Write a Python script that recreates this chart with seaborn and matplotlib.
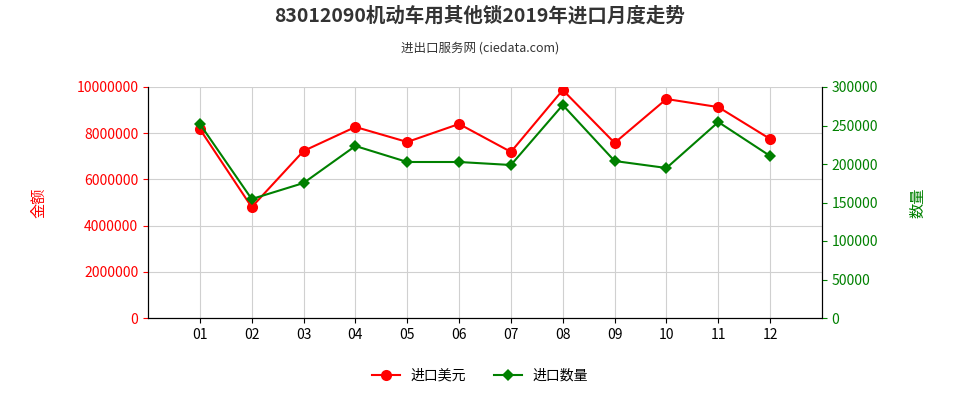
import matplotlib
matplotlib.use("Agg")
import matplotlib.pyplot as plt
from matplotlib import font_manager
import seaborn as sns
import pandas as pd

months = ["01","02","03","04","05","06","07","08","09","10","11","12"]
amount = [8180000,4800000,7230000,8270000,7620000,8400000,7190000,9870000,7580000,9480000,9130000,7750000]
quantity = [252000,154500,175300,223400,202600,202600,198700,276600,203900,194800,254500,210400]

cjk = [f.name for f in font_manager.fontManager.ttflist if "CJK" in f.name]
pref = [n for n in ["Noto Sans CJK SC", "Noto Sans CJK JP"] if n in cjk] + cjk
plt.rcParams["font.family"] = "sans-serif"
plt.rcParams["font.sans-serif"] = pref + ["DejaVu Sans"]
df = pd.DataFrame({"m": range(len(months)), "a": amount, "q": quantity})

fig = plt.figure(figsize=(9.6, 4), dpi=100)
ax = fig.add_axes([148/960, 1-318/400, (822-148)/960, (318-87)/400])
ax2 = ax.twinx()
sns.lineplot(data=df, x="m", y="a", ax=ax, color="#ff0000", marker="o", markersize=8, markeredgewidth=0, linewidth=1.5, label="进口美元", legend=False)
sns.lineplot(data=df, x="m", y="q", ax=ax2, color="#008000", marker="D", markersize=6, markeredgewidth=0, linewidth=1.5, label="进口数量", legend=False)

ax.set_xlim(-1, 12)
ax.set_ylim(0, 10000000)
ax2.set_ylim(0, 300000)
ax.set_yticks(range(0, 10000001, 2000000))
ax.set_yticklabels([str(v) for v in range(0, 10000001, 2000000)])
ax2.set_yticks(range(0, 300001, 50000))
ax.set_xticks(range(12))
ax.set_xticklabels(months)
ax.grid(True, color="#d0d0d0", linewidth=0.8)
ax.set_axisbelow(True)
ax.tick_params(axis="y", colors="#ff0000", labelsize=10)
ax2.tick_params(axis="y", colors="#008000", labelsize=10)
ax.tick_params(axis="x", labelsize=10)
for s in ["top"]:
    ax.spines[s].set_visible(False); ax2.spines[s].set_visible(False)
ax.set_xlabel(""); ax.set_ylabel("金额", color="#ff0000", fontsize=11)
ax2.set_ylabel("数量", color="#008000", fontsize=11)
ax.yaxis.set_label_coords(-0.15, 0.5)
ax2.yaxis.set_label_coords(1.13, 0.5)

fig.text(0.5, 0.945, "83012090机动车用其他锁2019年进口月度走势", ha="center", fontsize=14, fontweight="bold", color="#333333")
fig.text(0.5, 0.87, "进出口服务网 (ciedata.com)", ha="center", fontsize=9, color="#333333")
h1, l1 = ax.get_legend_handles_labels()
h2, l2 = ax2.get_legend_handles_labels()
fig.legend(h1+h2, l1+l2, loc="center", bbox_to_anchor=(0.5, 0.06), ncol=2, frameon=False, fontsize=10)
fig.savefig("out.png", dpi=100)
